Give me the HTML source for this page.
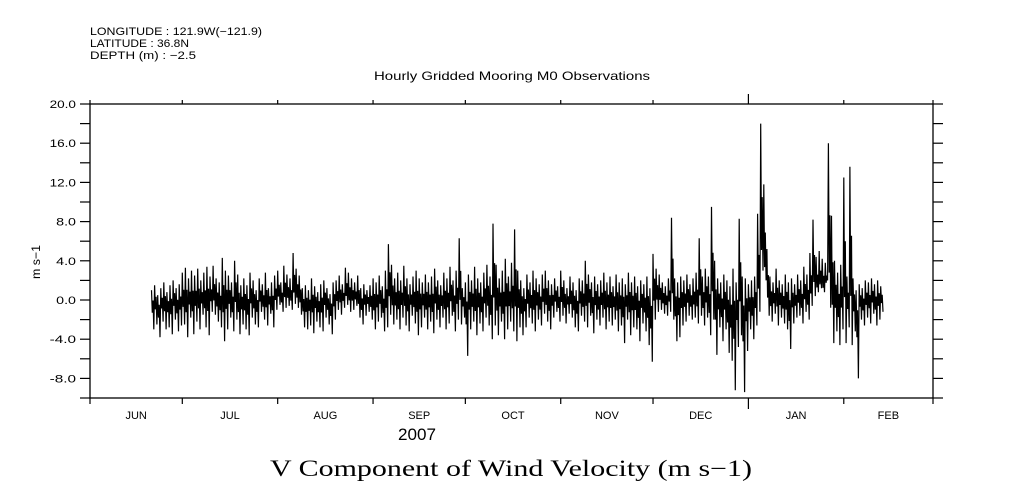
<!DOCTYPE html>
<html><head><meta charset="utf-8"><style>
body{margin:0;background:#fff;}
svg{display:block;font-family:"Liberation Sans",sans-serif;}
</style></head><body>
<svg id="chart" width="1009" height="504">
<g font-size="11" fill="#000">
<text x="90" y="35" textLength="172" lengthAdjust="spacingAndGlyphs">LONGITUDE : 121.9W(−121.9)</text>
<text x="90" y="47" textLength="99" lengthAdjust="spacingAndGlyphs">LATITUDE : 36.8N</text>
<text x="90" y="59" textLength="106" lengthAdjust="spacingAndGlyphs">DEPTH (m) : −2.5</text>
</g>
<text x="374" y="80" textLength="276" lengthAdjust="spacingAndGlyphs" font-size="12">Hourly Gridded Mooring M0 Observations</text>
<text transform="translate(40,262) rotate(-90)" text-anchor="middle" font-size="12" textLength="34" lengthAdjust="spacingAndGlyphs">m s−1</text>
<text x="398" y="440" textLength="38" lengthAdjust="spacingAndGlyphs" font-size="17">2007</text>
<text x="270" y="476" textLength="482" lengthAdjust="spacingAndGlyphs" font-size="23" font-family="Liberation Serif, serif">V Component of Wind Velocity (m s−1)</text>
<rect x="90" y="104" width="843" height="294" fill="none" stroke="#000" stroke-width="1.3"/>
<g id="axes"></g>
<g id="series"></g>
</svg>
<script>
const monthLabels=["JUN","JUL","AUG","SEP","OCT","NOV","DEC","JAN","FEB"];
const monthStartDays=[0,30,61,92,122,153,183,214,245,274];
const yearBoundaryDay=214;
const yTicks=[-10,-8,-6,-4,-2,0,2,4,6,8,10,12,14,16,18,20];
const yLabels=["-8.0","-4.0","0.0","4.0","8.0","12.0","16.0","20.0"];
const firstDay=20;
const dailyHigh=[1.0,1.5,0.5,1.2,1.8,0.8,1.5,2.0,1.2,1.6,
2.8,3.3,2.2,3.0,2.5,3.2,2.0,2.8,3.4,2.4,
3.5,2.2,1.8,4.3,3.0,2.5,1.8,4.0,2.6,1.5,
2.2,1.5,2.8,2.0,1.0,2.2,1.6,2.8,1.2,1.8,
2.5,3.0,1.8,3.5,2.6,2.2,4.8,3.2,2.5,1.2,
1.5,1.0,2.2,1.4,0.8,1.6,2.0,1.2,0.6,1.8,
2.0,2.5,1.6,3.3,2.8,2.2,1.8,2.5,1.2,1.6,
1.0,1.5,2.2,1.8,2.5,1.4,3.0,5.7,3.6,2.2,
2.8,2.0,3.5,2.2,1.6,2.4,3.0,2.2,1.8,2.6,
1.8,2.4,3.2,2.0,1.5,2.8,2.2,3.4,2.0,3.0,
6.3,1.2,1.8,2.6,2.0,3.4,2.2,1.8,2.8,3.6,
2.4,7.8,3.6,2.2,3.0,4.2,2.4,3.8,7.2,3.0,
2.0,1.2,2.6,1.8,3.0,2.2,1.6,2.6,3.0,2.0,
1.6,2.2,1.4,3.0,2.0,1.2,2.4,1.8,1.0,2.2,
2.0,4.0,2.6,1.8,2.4,1.6,2.0,2.8,1.8,2.4,
1.4,2.6,1.8,2.2,1.6,2.8,1.8,2.4,1.4,2.0,
1.6,2.4,1.2,4.7,3.2,2.6,1.8,1.4,2.2,8.4,
2.2,1.8,2.4,2.0,2.6,1.6,2.2,2.8,6.3,2.4,
3.2,2.4,9.5,4.0,2.2,1.8,2.6,2.0,1.4,3.2,
1.8,8.3,2.4,2.2,1.6,2.0,2.4,8.8,18.0,11.8,
5.2,2.4,1.8,3.2,2.0,1.6,2.6,1.8,2.2,1.6,
2.6,2.0,3.4,2.6,4.8,8.2,4.4,5.0,4.2,3.8,
16.0,8.6,4.0,2.8,3.6,12.5,2.4,13.6,2.2,1.0,
1.6,1.2,2.0,1.8,2.2,1.6,2.0,1.4];
const dailyLow=[-3.0,-2.5,-3.8,-2.2,-3.0,-2.8,-3.5,-2.0,-3.2,-2.6,
-2.5,-3.8,-1.8,-3.5,-2.2,-3.0,-1.5,-2.8,-3.6,-1.2,
-1.5,-2.2,-2.8,-4.2,-3.0,-1.8,-3.2,-2.0,-3.5,-2.5,
-3.0,-3.6,-1.8,-2.5,-2.8,-1.2,-2.0,-2.6,-1.4,-2.8,
-1.0,-0.5,-1.2,-0.8,-0.6,-1.0,-0.4,-0.8,-1.5,-2.8,
-3.0,-2.6,-3.4,-2.2,-2.8,-3.2,-1.8,-2.5,-3.5,-2.0,
-1.0,-1.5,-0.8,-0.5,-1.2,-1.0,-0.6,-1.8,-2.5,-1.6,
-1.2,-2.0,-3.0,-2.2,-1.8,-3.2,-2.8,-1.5,-2.5,-2.0,
-3.0,-1.8,-2.6,-3.2,-1.6,-2.4,-3.6,-2.8,-1.8,-3.0,
-2.2,-3.4,-2.0,-2.8,-1.8,-3.0,-2.4,-1.6,-3.2,-2.0,
-2.5,-1.8,-5.7,-3.0,-2.2,-3.6,-2.4,-3.2,-1.8,-2.6,
-4.0,-2.6,-3.6,-2.2,-4.0,-3.0,-2.2,-3.2,-4.2,-2.8,
-3.6,-2.8,-1.8,-2.4,-3.2,-2.0,-2.6,-1.4,-2.2,-3.0,
-1.8,-1.2,-2.2,-1.6,-2.4,-1.4,-1.8,-2.8,-3.2,-1.6,
-2.2,-2.8,-1.6,-3.4,-2.0,-2.6,-1.8,-3.0,-2.2,-2.6,
-2.0,-3.2,-2.6,-4.4,-2.0,-3.6,-2.8,-3.0,-4.2,-2.4,
-3.2,-4.6,-6.3,-2.0,-1.2,-1.0,-1.4,-1.6,-1.2,-2.0,
-4.2,-3.8,-2.6,-2.2,-1.6,-2.0,-1.8,-2.4,-1.6,-2.6,
-1.8,-3.6,-2.0,-5.6,-2.8,-4.2,-3.0,-5.4,-6.2,-9.2,
-4.8,-3.6,-9.4,-5.2,-3.0,-4.0,-2.6,-1.2,3.0,2.0,
-1.6,-2.2,-1.4,-2.6,-1.8,-2.4,-3.0,-5.0,-2.4,-1.8,
-1.6,-2.4,-1.2,-2.0,-0.6,0.4,0.8,1.2,0.8,2.0,
-0.8,-4.4,-3.2,-4.6,-3.0,-4.4,-2.8,-4.6,-3.2,-8.0,
-2.0,-2.6,-1.8,-2.4,-1.4,-2.6,-2.0,-1.2];

const X0=90,X1=933,Y0=398,Y1=104,DMAX=274,VMIN=-10,VMAX=20;
const xs=d=>X0+(d/DMAX)*(X1-X0);
const ys=v=>Y0-(v-VMIN)/(VMAX-VMIN)*(Y0-Y1);
const NS="http://www.w3.org/2000/svg";
const axes=document.getElementById('axes');
function mk(tag,attrs,parent){const e=document.createElementNS(NS,tag);for(const k in attrs)e.setAttribute(k,attrs[k]);parent.appendChild(e);return e;}
yTicks.forEach(v=>{
 const y=ys(v);
 const t1=mk('line',{x1:80,x2:90,y1:y,y2:y,stroke:'#000','stroke-width':1.2},axes);
 
 
 const t2=mk('line',{x1:933,x2:943,y1:y,y2:y,stroke:'#000','stroke-width':1.2},axes);
 
 
});
yLabels.forEach(s=>{
 const t=mk('text',{x:76,y:ys(parseFloat(s))+4,'text-anchor':'end','font-size':11,textLength:s.length*6.6,lengthAdjust:'spacingAndGlyphs'},axes);
 t.textContent=s;
 
 
});
monthStartDays.forEach(d=>{
 const x=xs(d);const yr=d===yearBoundaryDay;
 const b=mk('line',{x1:x,x2:x,y1:398,y2:yr?409:404,stroke:'#000','stroke-width':1.2},axes);
 
 
 const t=mk('line',{x1:x,x2:x,y1:104,y2:yr?94:100,stroke:'#000','stroke-width':1.2},axes);
 
 
});
monthLabels.forEach((m,i)=>{
 const x=(xs(monthStartDays[i])+xs(monthStartDays[i+1]))/2;
 const t=mk('text',{x:x,y:419,'text-anchor':'middle','font-size':11},axes);
 t.textContent=m;
 
 
});
const pts=[];
dailyHigh.forEach((h,i)=>{
 const l=dailyLow[i];const d=firstDay+i;
 pts.push([xs(d),ys(h)]);
 pts.push([xs(d+0.25),ys(l*0.5+h*0.2)]);
 pts.push([xs(d+0.5),ys(h*0.55+l*0.2)]);
 pts.push([xs(d+0.75),ys(l)]);
});
const p=mk('polyline',{points:pts.map(q=>q[0].toFixed(1)+','+q[1].toFixed(1)).join(' '),fill:'none',stroke:'#000','stroke-width':1.2,'stroke-linejoin':'miter'},document.getElementById('series'));


</script>
</body></html>
